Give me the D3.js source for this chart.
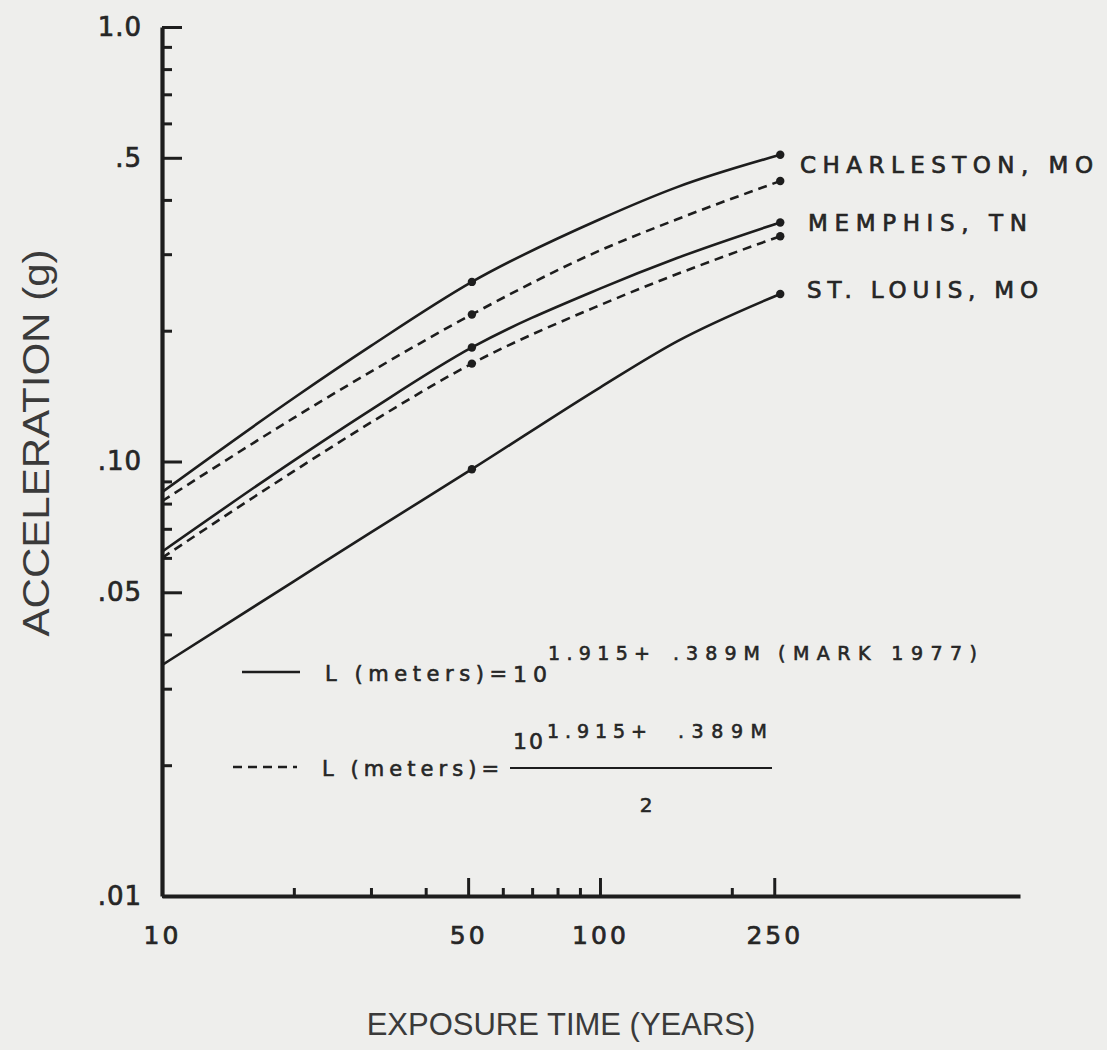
<!DOCTYPE html>
<html><head><meta charset="utf-8">
<script src="https://cdn.jsdelivr.net/npm/d3@7"></script>
<style>
html,body{margin:0;padding:0;background:#eeeeec;}
svg{display:block;}
</style></head><body>
<svg id="chart" width="1107" height="1050"></svg>
<script>
// ---------- data ----------
const years = [10, 20, 30, 51, 100, 150, 258];
const markerYears = [51, 258];
const charlestonSolid  = [0.085, 0.140, 0.1845, 0.259, 0.361, 0.428, 0.508];
const charlestonDashed = [0.081, 0.126, 0.161, 0.218, 0.306, 0.361, 0.442];
const memphisSolid     = [0.062, 0.1005, 0.1315, 0.183, 0.250, 0.294, 0.355];
const memphisDashed    = [0.060, 0.095, 0.123, 0.168, 0.229, 0.270, 0.330];
const stLouisSolid     = [0.034, 0.053, 0.0687, 0.096, 0.148, 0.189, 0.243];
const cityNames = ["CHARLESTON, MO", "MEMPHIS, TN", "ST. LOUIS, MO"];

const yMajorTicks  = [1, 0.5, 0.1, 0.05, 0.01];
const yMajorLabels = ["1.0", ".5", ".10", ".05", ".01"];
const yMinorTicks  = [0.9, 0.8, 0.7, 0.6, 0.4, 0.3, 0.2, 0.09, 0.08, 0.07, 0.06, 0.04, 0.03, 0.02];
const xMajorTicks  = [10, 50, 100, 250];
const xMajorLabels = ["10", "50", "100", "250"];
const xMinorTicks  = [20, 30, 40, 60, 70, 80, 90, 200];

const legendLabel = "L (meters)=";
const formulaBase = "10";
const formulaExp1 = "1.915+";
const formulaExp2 = ".389M";
const formulaNote = "(MARK 1977)";
const formulaDenominator = "2";
const xTitle = "EXPOSURE TIME (YEARS)";
const yTitle = "ACCELERATION (g)";

// ---------- drawing ----------
const ink = "#1d1d1d";
const textInk = "#262626";
const svg = d3.select("#chart");
svg.append("rect").attr("width", 1107).attr("height", 1050).attr("fill", "#eeeeec");

const x = d3.scaleLog().domain([10, 910]).range([162, 1020]);
const y = d3.scaleLog().domain([0.01, 1]).range([896, 27]);

const tickFont = "'DejaVu Sans', sans-serif";

// Y axis
const gyMinor = svg.append("g").attr("transform", "translate(162,0)")
  .call(d3.axisLeft(y).tickValues(yMinorTicks).tickSizeInner(-10).tickSizeOuter(0).tickFormat(""));
gyMinor.select(".domain").remove();
const gy = svg.append("g").attr("transform", "translate(162,0)")
  .call(d3.axisLeft(y).tickValues(yMajorTicks).tickSizeInner(-20).tickSizeOuter(0).tickPadding(20)
    .tickFormat(d => yMajorLabels[yMajorTicks.indexOf(d)]));

// X axis
const gxMinor = svg.append("g").attr("transform", "translate(0,896)")
  .call(d3.axisBottom(x).tickValues(xMinorTicks).tickSizeInner(-8).tickSizeOuter(0).tickFormat(""));
gxMinor.select(".domain").remove();
const gx = svg.append("g").attr("transform", "translate(0,896)")
  .call(d3.axisBottom(x).tickValues(xMajorTicks).tickSizeInner(-18).tickSizeOuter(0).tickPadding(30)
    .tickFormat(d => xMajorLabels[xMajorTicks.indexOf(d)]));

svg.selectAll(".domain").attr("stroke", ink).attr("stroke-width", 4.2);
svg.selectAll(".tick line").attr("stroke", ink).attr("stroke-width", 3);
svg.selectAll(".tick text").attr("fill", textInk).attr("stroke", textInk).attr("stroke-width", 0.7)
  .style("font-family", tickFont).style("font-size", "25px").style("letter-spacing", "3px");
gy.selectAll(".tick text").style("font-size", "26px").style("letter-spacing", "1px");

// Curves
const series = [
  { values: charlestonSolid,  dashed: false },
  { values: charlestonDashed, dashed: true  },
  { values: memphisSolid,     dashed: false },
  { values: memphisDashed,    dashed: true  },
  { values: stLouisSolid,     dashed: false }
];
const line = d3.line().x(d => x(d[0])).y(d => y(d[1])).curve(d3.curveMonotoneX);
series.forEach(s => {
  const pts = years.map((t, i) => [t, s.values[i]]);
  svg.append("path").attr("d", line(pts)).attr("fill", "none").attr("stroke", ink)
    .attr("stroke-width", 2.6).attr("stroke-dasharray", s.dashed ? "9,6" : null);
  markerYears.forEach(t => {
    const i = years.indexOf(t);
    svg.append("circle").attr("cx", x(t)).attr("cy", y(s.values[i])).attr("r", 4.2).attr("fill", ink);
  });
});

// City labels
const labelFont = "'DejaVu Sans', sans-serif";
const cityLayout = [
  { x: 800, base: 173, len: 293 },
  { x: 808, base: 231, len: 219 },
  { x: 807, base: 298, len: 231 }
];
cityNames.forEach((n, i) => {
  svg.append("text").attr("x", cityLayout[i].x).attr("y", cityLayout[i].base)
    .attr("textLength", cityLayout[i].len).attr("lengthAdjust", "spacing")
    .style("font-family", labelFont).style("font-size", "23px")
    .attr("fill", textInk).attr("stroke", textInk).attr("stroke-width", 0.7).text(n);
});

// Legend
function txt(str, x0, base, size, len, anchor) {
  const t = svg.append("text").attr("x", x0).attr("y", base)
    .style("font-family", labelFont).style("font-size", size + "px")
    .attr("fill", textInk).attr("stroke", textInk).attr("stroke-width", 0.6)
    .attr("text-anchor", anchor || "start").text(str);
  if (len) t.attr("textLength", len).attr("lengthAdjust", "spacing");
  return t;
}
// solid legend entry
svg.append("line").attr("x1", 242).attr("x2", 300).attr("y1", 672).attr("y2", 672)
  .attr("stroke", ink).attr("stroke-width", 2.6);
txt(legendLabel, 325, 681, 21, 182);
txt(formulaBase, 513, 682, 22, 34);
txt(formulaExp1, 548, 660, 19, 102);
txt(formulaExp2, 673, 660, 19, 87);
txt(formulaNote, 778, 660, 19, 199);
// dashed legend entry
svg.append("line").attr("x1", 233).attr("x2", 297).attr("y1", 767).attr("y2", 767)
  .attr("stroke", ink).attr("stroke-width", 2.6).attr("stroke-dasharray", "9,6");
txt(legendLabel, 322, 776, 21, 177);
txt(formulaBase, 513, 749, 22, 30);
txt(formulaExp1, 547, 738, 19, 100);
txt(formulaExp2, 678, 738, 19, 89);
svg.append("line").attr("x1", 510).attr("x2", 772).attr("y1", 768).attr("y2", 768)
  .attr("stroke", ink).attr("stroke-width", 2.2);
txt(formulaDenominator, 646, 812, 20, null, "middle");

// Axis titles
svg.append("text").attr("x", 561).attr("y", 1035).attr("text-anchor", "middle")
  .style("font-family", "'Liberation Sans', Arial, sans-serif").style("font-size", "31px")
  .attr("fill", "#3a3a3a").text(xTitle);
svg.append("text").attr("transform", "translate(49,443) rotate(-90)").attr("text-anchor", "middle")
  .attr("textLength", 387).attr("lengthAdjust", "spacingAndGlyphs")
  .style("font-family", "'Liberation Sans', Arial, sans-serif").style("font-size", "37px")
  .attr("fill", "#3a3a3a").text(yTitle);
</script>
</body></html>
